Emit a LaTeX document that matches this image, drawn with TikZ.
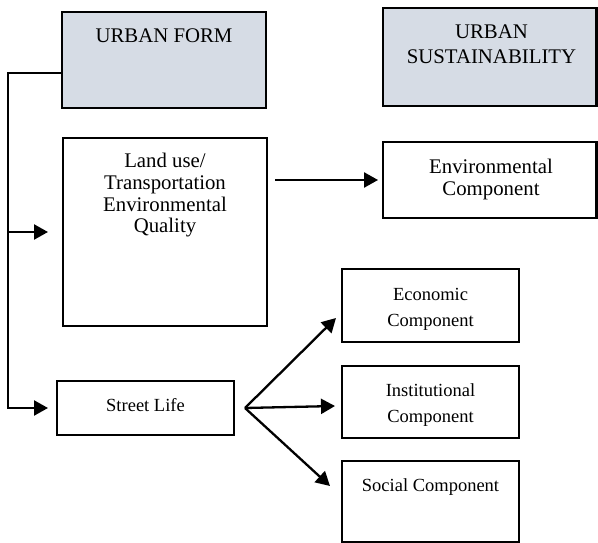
\documentclass[tikz,border=0pt]{standalone}
\usepackage{fontspec}
\setmainfont{Liberation Serif}
\usetikzlibrary{arrows.meta,calc}
\definecolor{headfill}{RGB}{214,220,229}
\begin{document}
\begin{tikzpicture}[x=1pt,y=-1pt,
  box/.style={draw=black,line width=2.6pt,rectangle,inner sep=0pt,outer sep=0pt},
  head/.style={box,fill=headfill},
  % text nodes are placed by the baseline of their last line
  bigtext/.style={anchor=base,align=center,inner sep=0pt,font=\fontsize{20.8}{22}\selectfont},
  smalltext/.style={anchor=base,align=center,inner sep=0pt,font=\fontsize{18.5}{26}\selectfont},
  link/.style={line width=2.3pt},
  arrow/.style={link,-{Triangle[length=14pt,width=15pt]}}]
\useasboundingbox (0,0) rectangle (598,543);

% header boxes
\node[head,minimum width=204pt,minimum height=96pt] (form) at (164,60) {};
\node[head,minimum width=213.5pt,minimum height=98pt] (sust) at (489.8,57) {};
\node[bigtext] (form-text) at (164,43) {URBAN FORM};
\node[bigtext,font=\fontsize{20.8}{25}\selectfont] (sust-text) at (491.5,64) {URBAN\\SUSTAINABILITY};

% urban form elements
\node[box,minimum width=204pt,minimum height=188pt] (land) at (165,232) {};
\node[bigtext,font=\fontsize{20.8}{21.7}\selectfont] (land-text) at (165,233)
  {Land use/\\Transportation\\Environmental\\Quality};
\node[box,minimum width=177pt,minimum height=54pt] (street) at (145.5,408) {};
\node[smalltext] (street-text) at (145.5,411) {Street Life};

% sustainability components
\node[box,minimum width=213.5pt,minimum height=76pt] (env) at (489.8,180) {};
\node[bigtext] (env-text) at (491,195) {Environmental\\Component};
\node[box,minimum width=177pt,minimum height=73pt] (econ) at (430.5,305.5) {};
\node[smalltext] (econ-text) at (430.5,326.7) {Economic\\Component};
\node[box,minimum width=177pt,minimum height=72pt] (inst) at (430.5,402) {};
\node[smalltext] (inst-text) at (430.5,422.7) {Institutional\\Component};
\node[box,minimum width=177pt,minimum height=81pt] (soc) at (430.5,501.5) {};
\node[smalltext] (soc-text) at (430.5,491.7) {Social Component};

% connectors
\coordinate (bus) at (8,73);
\draw[arrow] ([yshift=-13pt]form.west) -- (bus) |- ([xshift=-9pt]street.west);
\draw[arrow] (bus |- land.west) -- ([xshift=-15pt]land.west);
\draw[arrow] ([xshift=8pt]land.east |- env.west) -- ([xshift=-5pt]env.west);
\coordinate (fork) at ([xshift=11pt]street.east);
\draw[arrow] (fork) -- ($(econ.south west)+(-6,-24)$);
\draw[arrow] (fork) -- ($(inst.west)+(-7,4)$);
\draw[arrow] (fork) -- ($(soc.north west)+(-12,25)$);
\end{tikzpicture}
\end{document}
